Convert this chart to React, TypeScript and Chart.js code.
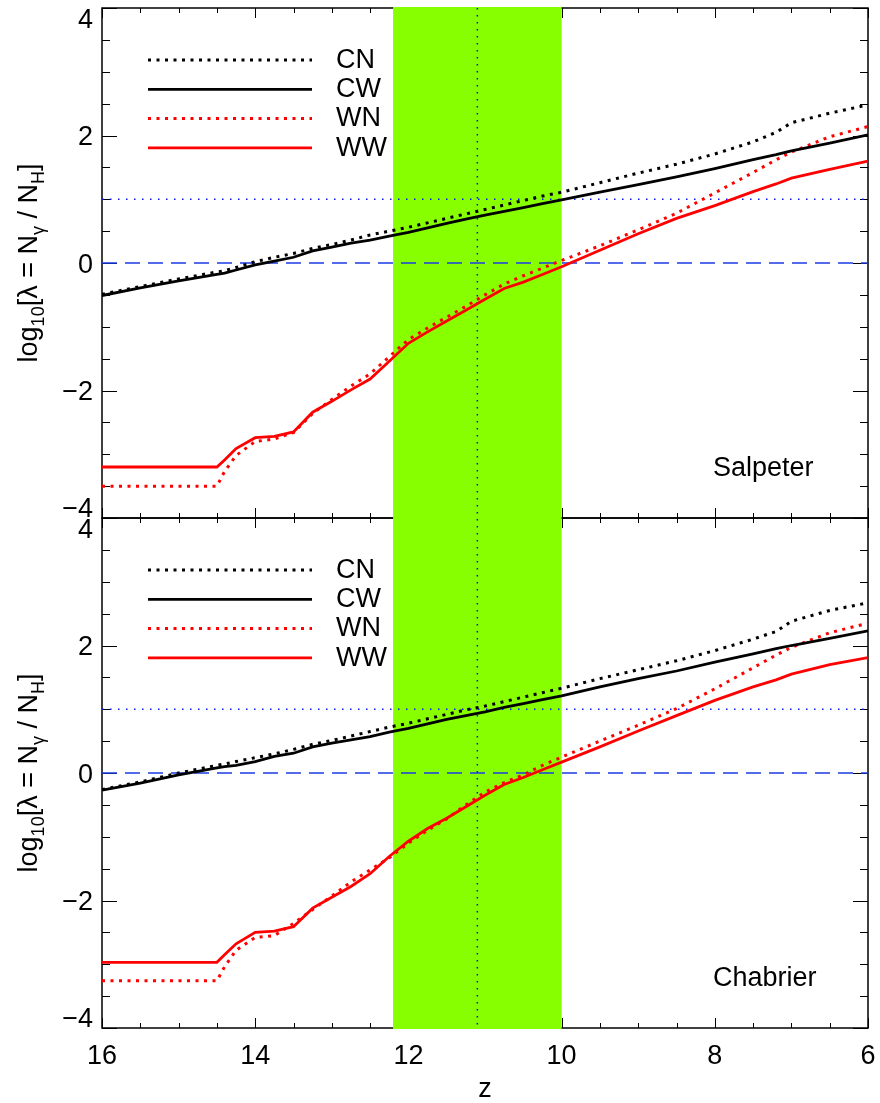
import React, { useEffect, useRef } from "react";
import { Chart, registerables } from "chart.js";

Chart.register(...registerables);

// ---------- data ----------
const Z = [16, 15.5, 15, 14.5, 14.4, 14.25, 14.0, 13.75, 13.5, 13.25, 13.0, 12.75, 12.5, 12.25, 12.0, 11.75, 11.5, 11.25, 11.0, 10.75, 10.5, 10.25, 10.0, 9.5, 9.0, 8.5, 8.0, 7.5, 7.2, 7.0, 6.5, 6.0];

// Salpeter panel
const SAL_CN = [-0.49, -0.37, -0.25, -0.14, -0.12, -0.07, 0.02, 0.09, 0.15, 0.23, 0.29, 0.36, 0.44, 0.5, 0.56, 0.63, 0.7, 0.77, 0.84, 0.91, 0.98, 1.05, 1.11, 1.26, 1.41, 1.55, 1.71, 1.9, 2.05, 2.2, 2.35, 2.48];
const SAL_CW = [-0.51, -0.39, -0.28, -0.18, -0.16, -0.11, -0.03, 0.03, 0.09, 0.19, 0.25, 0.31, 0.36, 0.42, 0.48, 0.55, 0.62, 0.69, 0.75, 0.81, 0.87, 0.93, 0.99, 1.11, 1.23, 1.35, 1.48, 1.62, 1.7, 1.76, 1.88, 2.01];
const SAL_WN = [-3.5, -3.5, -3.5, -3.5, -3.27, -3.02, -2.8, -2.76, -2.66, -2.36, -2.14, -1.93, -1.74, -1.47, -1.2, -1.02, -0.85, -0.68, -0.5, -0.33, -0.2, -0.08, 0.04, 0.27, 0.52, 0.78, 1.1, 1.42, 1.62, 1.74, 1.98, 2.14];
const SAL_WW = [-3.2, -3.2, -3.2, -3.2, -3.09, -2.91, -2.74, -2.72, -2.65, -2.34, -2.17, -1.99, -1.82, -1.54, -1.26, -1.08, -0.91, -0.74, -0.57, -0.4, -0.3, -0.18, -0.06, 0.2, 0.46, 0.7, 0.9, 1.12, 1.24, 1.33, 1.47, 1.6];

// Chabrier panel
const CHA_CN = [-0.26, -0.14, 0.0, 0.12, 0.14, 0.18, 0.24, 0.3, 0.37, 0.45, 0.51, 0.58, 0.65, 0.72, 0.78, 0.85, 0.92, 0.99, 1.05, 1.12, 1.19, 1.26, 1.33, 1.48, 1.62, 1.76, 1.92, 2.1, 2.22, 2.38, 2.55, 2.67];
const CHA_CW = [-0.27, -0.16, -0.03, 0.08, 0.1, 0.12, 0.18, 0.26, 0.31, 0.41, 0.47, 0.52, 0.57, 0.64, 0.7, 0.77, 0.84, 0.9, 0.96, 1.03, 1.09, 1.15, 1.21, 1.35, 1.48, 1.6, 1.74, 1.87, 1.95, 2.0, 2.11, 2.23];
const CHA_WN = [-3.26, -3.26, -3.26, -3.26, -3.04, -2.78, -2.58, -2.55, -2.36, -2.14, -1.93, -1.71, -1.52, -1.33, -1.1, -0.9, -0.72, -0.5, -0.3, -0.15, -0.03, 0.12, 0.25, 0.5, 0.75, 1.01, 1.32, 1.65, 1.85, 1.97, 2.2, 2.35];
const CHA_WW = [-2.97, -2.97, -2.97, -2.97, -2.85, -2.68, -2.5, -2.48, -2.41, -2.12, -1.95, -1.78, -1.58, -1.31, -1.07, -0.87, -0.71, -0.53, -0.35, -0.18, -0.07, 0.05, 0.17, 0.41, 0.66, 0.9, 1.14, 1.35, 1.46, 1.55, 1.7, 1.81];

const SERIES_LABELS = ["CN", "CW", "WN", "WW"];
const PANEL_NAMES = ["Salpeter", "Chabrier"];
const Y_MAJOR = [-4, -2, 0, 2, 4];
const X_MAJOR = [16, 14, 12, 10, 8, 6];
const Y_RANGE = [-4, 4];
const X_RANGE = [6, 16];
const MINOR_STEP = 0.5;
const BAND_Z = [12.2, 10.0];
const VLINE_Z = 11.1;
const HLINE_DOTTED = 1;
const HLINE_DASHED = 0;

// ---------- styles ----------
const FONT_FAMILY = '"Liberation Sans", Arial, Helvetica, sans-serif';
const FS = 27;
const SUB_FS = 18;
const RED = "#ff0000";
const BLACK = "#000000";
const BLUE_DOT = "#0a14ff";
const BLUE_DASH = "#1c3ce6";
const GREEN = "#88ff00";

const SERIES_STYLE = [
  { color: BLACK, dash: [3, 5.5], width: 3 },
  { color: BLACK, dash: [], width: 2.8 },
  { color: RED, dash: [3, 5.5], width: 3 },
  { color: RED, dash: [], width: 2.8 },
];

function makeDatasets(values: number[][], axisId: string) {
  return values.map((vals, i) => ({
    label: SERIES_LABELS[i],
    data: Z.map((z, k) => ({ x: z, y: vals[k] })),
    yAxisID: axisId,
    borderColor: SERIES_STYLE[i].color,
    borderDash: SERIES_STYLE[i].dash,
    borderWidth: SERIES_STYLE[i].width,
    borderCapStyle: "butt" as const,
    pointRadius: 0,
    tension: 0,
    fill: false,
  }));
}

function fmt(v: number) {
  return v < 0 ? "\u2212" + Math.abs(v) : String(v);
}

const panelPlugin = {
  id: "panelPlugin",
  beforeDraw(chart: any) {
    const ctx = chart.ctx;
    ctx.save();
    ctx.fillStyle = "#ffffff";
    ctx.fillRect(0, 0, chart.width, chart.height);
    ctx.restore();
  },
  beforeDatasetsDraw(chart: any) {
    const ctx = chart.ctx;
    const xs = chart.scales.x;
    const panels = [chart.scales.yTop, chart.scales.yBot];
    const L = xs.getPixelForValue(X_RANGE[1]);
    const R = xs.getPixelForValue(X_RANGE[0]);
    ctx.save();
    // frames and ticks
    for (const ys of panels) {
      const T = ys.getPixelForValue(Y_RANGE[1]);
      const B = ys.getPixelForValue(Y_RANGE[0]);
      ctx.strokeStyle = BLACK;
      ctx.lineWidth = 1.5;
      ctx.setLineDash([]);
      ctx.strokeRect(L, T, R - L, B - T);
      ctx.lineWidth = 1;
      ctx.beginPath();
      for (let v = Y_RANGE[0]; v <= Y_RANGE[1] + 1e-9; v += MINOR_STEP) {
        const y = Math.round(ys.getPixelForValue(v)) + 0.5;
        const len = Y_MAJOR.includes(v) ? 15 : 8;
        ctx.moveTo(L, y); ctx.lineTo(L + len, y);
        ctx.moveTo(R, y); ctx.lineTo(R - len, y);
      }
      for (let v = X_RANGE[0]; v <= X_RANGE[1] + 1e-9; v += MINOR_STEP) {
        const x = Math.round(xs.getPixelForValue(v)) + 0.5;
        const len = X_MAJOR.includes(v) ? 10 : 5;
        ctx.moveTo(x, T); ctx.lineTo(x, T + len);
        ctx.moveTo(x, B); ctx.lineTo(x, B - len);
      }
      ctx.stroke();
    }
    // green band
    const topPix = panels[0].getPixelForValue(Y_RANGE[1]);
    const botPix = panels[1].getPixelForValue(Y_RANGE[0]);
    const bx0 = xs.getPixelForValue(BAND_Z[0]);
    const bx1 = xs.getPixelForValue(BAND_Z[1]);
    ctx.fillStyle = GREEN;
    ctx.fillRect(bx0, topPix - 1, bx1 - bx0, botPix - topPix + 2);
    // reference lines
    for (const ys of panels) {
      const yd = ys.getPixelForValue(HLINE_DOTTED);
      ctx.strokeStyle = BLUE_DOT;
      ctx.lineWidth = 1.5;
      ctx.setLineDash([1.5, 6.5]);
      ctx.beginPath(); ctx.moveTo(L, yd); ctx.lineTo(R, yd); ctx.stroke();
      const y0 = ys.getPixelForValue(HLINE_DASHED);
      ctx.strokeStyle = BLUE_DASH;
      ctx.setLineDash([15, 8]);
      ctx.beginPath(); ctx.moveTo(L, y0); ctx.lineTo(R, y0); ctx.stroke();
    }
    const vx = xs.getPixelForValue(VLINE_Z);
    ctx.strokeStyle = BLUE_DOT;
    ctx.setLineDash([1.5, 5.5]);
    ctx.beginPath(); ctx.moveTo(vx, topPix); ctx.lineTo(vx, botPix); ctx.stroke();
    ctx.restore();
  },
  afterDraw(chart: any) {
    const ctx = chart.ctx;
    const xs = chart.scales.x;
    const panels = [chart.scales.yTop, chart.scales.yBot];
    const L = xs.getPixelForValue(X_RANGE[1]);
    const R = xs.getPixelForValue(X_RANGE[0]);
    const capH = FS * 0.716;
    ctx.save();
    ctx.fillStyle = BLACK;
    ctx.font = `${FS}px ${FONT_FAMILY}`;
    ctx.textBaseline = "alphabetic";
    panels.forEach((ys: any, p: number) => {
      const T = ys.getPixelForValue(Y_RANGE[1]);
      const B = ys.getPixelForValue(Y_RANGE[0]);
      // y tick labels
      ctx.textAlign = "right";
      for (const v of Y_MAJOR) {
        const y = ys.getPixelForValue(v);
        let base = y + capH / 2;
        if (v === Y_RANGE[1]) base = y + capH + 1;
        if (v === Y_RANGE[0]) base = y - 1;
        ctx.fillText(fmt(v), L - 9, base);
      }
      // legend
      const metas = chart.getSortedVisibleDatasetMetas().filter((m: any) => m.yAxisID === ys.id);
      metas.forEach((m: any, i: number) => {
        const ds = chart.data.datasets[m.index];
        const ry = T + 52 + 29.3 * i;
        ctx.save();
        ctx.strokeStyle = ds.borderColor;
        ctx.lineWidth = ds.borderWidth;
        ctx.setLineDash(ds.borderDash || []);
        ctx.beginPath(); ctx.moveTo(148, ry); ctx.lineTo(312, ry); ctx.stroke();
        ctx.restore();
        ctx.textAlign = "left";
        ctx.fillText(ds.label, 336, ry + capH / 2 - 2);
      });
      // panel name
      ctx.textAlign = "left";
      ctx.fillText(PANEL_NAMES[p], 713, B - 42);
      // y title with subscripts
      const segs = [
        { t: "log", s: false }, { t: "10", s: true }, { t: "[\u03bb = N", s: false },
        { t: "\u03b3", s: true }, { t: " / N", s: false }, { t: "H", s: true }, { t: "]", s: false },
      ];
      let total = 0;
      const widths = segs.map((sg) => {
        ctx.font = `${sg.s ? SUB_FS : FS}px ${FONT_FAMILY}`;
        const w = ctx.measureText(sg.t).width;
        total += w;
        return w;
      });
      const cy = (T + B) / 2;
      ctx.save();
      ctx.translate(37, cy);
      ctx.rotate(-Math.PI / 2);
      ctx.textAlign = "left";
      let cx = -total / 2;
      segs.forEach((sg, i) => {
        ctx.font = `${sg.s ? SUB_FS : FS}px ${FONT_FAMILY}`;
        ctx.fillText(sg.t, cx, sg.s ? 7 : 0);
        cx += widths[i];
      });
      ctx.restore();
      ctx.font = `${FS}px ${FONT_FAMILY}`;
    });
    // x tick labels
    const bottom = panels[1].getPixelForValue(Y_RANGE[0]);
    ctx.textAlign = "center";
    for (const v of X_MAJOR) {
      ctx.fillText(String(v), xs.getPixelForValue(v), bottom + 36);
    }
    ctx.fillText("z", (L + R) / 2, bottom + 69);
    ctx.restore();
  },
};

export default function App() {
  const canvasRef = useRef<HTMLCanvasElement | null>(null);
  useEffect(() => {
    const canvas = canvasRef.current;
    if (!canvas) return;
    const hiddenAxis = {
      grid: { display: false },
      border: { display: false },
      ticks: { display: false },
    };
    const chart = new Chart(canvas, {
      type: "line",
      data: {
        datasets: [
          ...makeDatasets([SAL_CN, SAL_CW, SAL_WN, SAL_WW], "yTop"),
          ...makeDatasets([CHA_CN, CHA_CW, CHA_WN, CHA_WW], "yBot"),
        ],
      },
      options: {
        responsive: false,
        animation: false,
        events: [],
        layout: { padding: { left: 102, right: 12, top: 8, bottom: 75 } },
        plugins: { legend: { display: false }, tooltip: { enabled: false } },
        scales: {
          x: {
            type: "linear", position: "bottom", min: X_RANGE[0], max: X_RANGE[1], reverse: true,
            ...hiddenAxis,
            afterFit: (s: any) => { s.height = 0; },
          },
          yTop: {
            type: "linear", position: "left", stack: "panels", stackWeight: 1, weight: 2,
            min: Y_RANGE[0], max: Y_RANGE[1],
            ...hiddenAxis,
            afterFit: (s: any) => { s.width = 0; },
          },
          yBot: {
            type: "linear", position: "left", stack: "panels", stackWeight: 1, weight: 1,
            min: Y_RANGE[0], max: Y_RANGE[1],
            ...hiddenAxis,
            afterFit: (s: any) => { s.width = 0; },
          },
        },
      } as any,
      plugins: [panelPlugin],
    });
    return () => chart.destroy();
  }, []);
  return (
    <div style={{ position: "fixed", left: 0, top: 0, width: 880, height: 1103, background: "#fff" }}>
      <canvas ref={canvasRef} width={880} height={1103} style={{ width: 880, height: 1103, display: "block" }} />
    </div>
  );
}
